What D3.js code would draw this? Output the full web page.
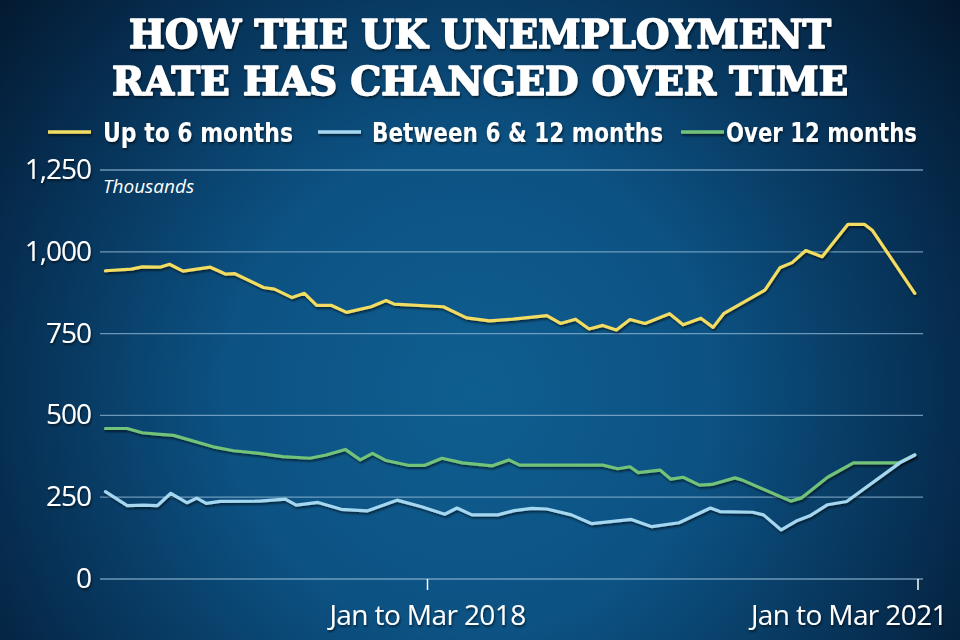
<!DOCTYPE html>
<html>
<head>
<meta charset="utf-8">
<script src="https://cdn.jsdelivr.net/npm/d3@7"></script>
<style>
  html, body { margin: 0; padding: 0; background: #062038; }
  svg { display: block; }
</style>
</head>
<body>
<svg id="chart" width="960" height="640"></svg>
<script>
// ---------------- DATA ----------------
// x = months since "Jan to Mar 2016" (rolling quarter), y = thousands
const titleLines = ["HOW THE UK UNEMPLOYMENT", "RATE HAS CHANGED OVER TIME"];
const seriesNames = ["Up to 6 months", "Between 6 & 12 months", "Over 12 months"];
const yTicks = [0, 250, 500, 750, 1000, 1250];
const yTickLabels = ["0", "250", "500", "750", "1,000", "1,250"];
const xTicks = [24, 60];
const xTickLabels = ["Jan to Mar 2018", "Jan to Mar 2021"];
const unitLabel = "Thousands";

const upTo6Months = [
  [0.4, 942], [2.3, 947], [3.1, 954], [4.4, 953], [5.1, 962], [6.1, 941], [8.1, 953],
  [9.2, 932], [9.9, 933], [12.0, 891], [12.8, 886], [14.1, 860], [15.0, 873], [15.9, 836],
  [17.0, 836], [18.1, 815], [19.9, 832], [21.0, 851], [21.6, 840], [25.2, 832], [26.9, 798],
  [28.6, 789], [30.3, 794], [32.8, 805], [33.8, 781], [34.9, 794], [35.9, 764], [36.9, 775],
  [37.9, 761], [38.9, 793], [40.0, 781], [41.8, 811], [42.8, 777], [44.1, 797], [45.0, 769],
  [45.8, 812], [48.8, 883], [49.9, 951], [50.8, 967], [51.8, 1004], [53.0, 985], [54.9, 1084],
  [56.1, 1084], [56.7, 1065], [59.8, 873]
];
const between6And12Months = [
  [0.4, 267], [2.0, 224], [3.2, 226], [4.2, 224], [5.2, 262], [6.4, 233], [7.1, 247],
  [7.8, 231], [8.8, 237], [11.7, 238], [13.6, 244], [14.4, 226], [16.0, 234], [17.7, 213],
  [19.6, 208], [21.8, 241], [23.6, 221], [25.3, 198], [26.2, 217], [27.3, 196], [29.2, 196],
  [30.4, 209], [31.7, 216], [32.8, 214], [34.6, 196], [36.1, 169], [39.0, 182], [40.5, 160],
  [42.5, 172], [44.8, 217], [45.5, 206], [47.9, 204], [48.7, 196], [50.0, 150], [51.1, 177],
  [52.1, 193], [53.4, 227], [54.8, 237], [58.7, 355], [59.8, 379]
];
const over12Months = [
  [0.4, 460], [2.0, 460], [3.1, 447], [4.2, 443], [5.4, 439], [8.3, 404], [9.8, 392],
  [11.7, 384], [13.4, 374], [15.4, 369], [16.6, 379], [18.0, 396], [19.1, 364], [20.0, 384],
  [21.0, 362], [22.7, 347], [23.8, 347], [25.1, 369], [26.6, 355], [28.8, 346], [30.0, 364],
  [30.8, 348], [33.0, 348], [36.9, 348], [38.0, 337], [38.9, 343], [39.5, 325], [41.1, 333],
  [41.9, 305], [42.8, 311], [44.0, 287], [44.9, 289], [46.6, 309], [47.1, 303], [50.7, 238],
  [51.5, 248], [53.4, 311], [55.3, 355], [58.6, 355], [59.8, 379]
];
const seriesColors = ["#f3dc62", "#a5d8f0", "#72c279"];

// ---------------- DRAW ----------------
const svg = d3.select("#chart");
const W = 960, H = 640;
const defs = svg.append("defs");

const bg = defs.append("radialGradient").attr("id", "bg")
  .attr("gradientUnits", "userSpaceOnUse")
  .attr("cx", 470).attr("cy", 390).attr("r", 640);
bg.append("stop").attr("offset", "0").attr("stop-color", "#0f5e90");
bg.append("stop").attr("offset", "0.38").attr("stop-color", "#0c5283");
bg.append("stop").attr("offset", "0.75").attr("stop-color", "#062d50");
bg.append("stop").attr("offset", "1").attr("stop-color", "#031529");

const sh = defs.append("filter").attr("id", "shadow")
  .attr("filterUnits", "userSpaceOnUse")
  .attr("x", -2000).attr("y", -2000).attr("width", 5000).attr("height", 5000);
sh.append("feDropShadow").attr("dx", 1).attr("dy", 2).attr("stdDeviation", 1.3)
  .attr("flood-color", "#000").attr("flood-opacity", 0.55);

svg.append("rect").attr("width", W).attr("height", H).attr("fill", "url(#bg)");

// Title
const titleBaselines = [48, 95];
const titleWidths = [702, 736];
svg.selectAll("text.title").data(titleLines).join("text")
  .attr("class", "title")
  .attr("x", W / 2).attr("y", (d, i) => titleBaselines[i])
  .attr("text-anchor", "middle")
  .attr("textLength", (d, i) => titleWidths[i])
  .attr("lengthAdjust", "spacingAndGlyphs")
  .attr("font-family", "'DejaVu Serif Condensed', 'DejaVu Serif', serif")
  .attr("font-weight", "bold")
  .attr("font-size", 40)
  .attr("fill", "#fff").attr("stroke", "#fff").attr("stroke-width", 1.6)
  .attr("stroke-linejoin", "round")
  .attr("filter", "url(#shadow)")
  .text(d => d);

// Legend
const legendItems = [
  { sx: 48, tx: 103, tw: 190 },
  { sx: 318, tx: 372, tw: 291 },
  { sx: 681, tx: 726, tw: 191 }
];
const lg = svg.append("g");
legendItems.forEach((it, i) => {
  lg.append("line").attr("x1", it.sx).attr("x2", it.sx + 43)
    .attr("y1", 132).attr("y2", 132)
    .attr("stroke", seriesColors[i]).attr("stroke-width", 3.5)
    .attr("filter", "url(#shadow)");
  lg.append("text").attr("x", it.tx).attr("y", 142)
    .attr("textLength", it.tw).attr("lengthAdjust", "spacingAndGlyphs")
    .attr("font-family", "'Liberation Sans Narrow', 'DejaVu Sans Condensed', 'Roboto', sans-serif")
    .attr("font-weight", "bold").attr("font-size", 27)
    .attr("fill", "#fff").attr("filter", "url(#shadow)")
    .text(seriesNames[i]);
});

// Scales
const x = d3.scaleLinear().domain([0, 60]).range([100, 917.5]);
const y = d3.scaleLinear().domain([0, 1250]).range([579, 170]);

// Gridlines
svg.append("g").selectAll("line").data(yTicks).join("line")
  .attr("x1", 100).attr("x2", 923)
  .attr("y1", d => y(d)).attr("y2", d => y(d))
  .attr("stroke", "#8fb6d3").attr("stroke-opacity", 0.75).attr("stroke-width", 1.3);

// Y labels
const yAxis = d3.axisLeft(y).tickValues(yTicks)
  .tickFormat((d, i) => yTickLabels[i]).tickSize(0).tickPadding(0);
const yg = svg.append("g").attr("transform", "translate(91,0)").call(yAxis);
yg.select(".domain").remove();
yg.selectAll("text")
  .attr("font-family", "'Open Sans', 'Noto Sans', sans-serif")
  .attr("font-size", 28).attr("fill", "#fff")
  .attr("dy", "0.3em").attr("letter-spacing", -1)
  .attr("filter", "url(#shadow)");

// Units
svg.append("text").attr("x", 103).attr("y", 193)
  .attr("font-family", "'Open Sans', 'Noto Sans', sans-serif")
  .attr("font-style", "italic").attr("font-size", 19).attr("fill", "#fff")
  .text(unitLabel);

// X axis
const xAxis = d3.axisBottom(x).tickValues(xTicks)
  .tickFormat((d, i) => xTickLabels[i]).tickSize(11).tickPadding(10);
const xg = svg.append("g").attr("transform", "translate(0,579)").call(xAxis);
xg.select(".domain").remove();
xg.selectAll(".tick line").attr("stroke", "#fff").attr("stroke-width", 1.5);
xg.selectAll("text")
  .attr("font-family", "'Open Sans', 'Noto Sans', sans-serif")
  .attr("font-size", 28).attr("fill", "#fff").attr("letter-spacing", -0.6)
  .attr("dy", "0.9em")
  .attr("filter", "url(#shadow)");
xg.selectAll(".tick").filter((d, i) => i === xTicks.length - 1)
  .select("text").attr("text-anchor", "end").attr("x", 29);

// Lines
const line = d3.line().x(d => x(d[0])).y(d => y(d[1]));
const allSeries = [over12Months, between6And12Months, upTo6Months];
const allColors = [seriesColors[2], seriesColors[1], seriesColors[0]];
svg.append("g").selectAll("path").data(allSeries).join("path")
  .attr("d", line)
  .attr("fill", "none")
  .attr("stroke", (d, i) => allColors[i])
  .attr("stroke-width", 3.2)
  .attr("stroke-linejoin", "round")
  .attr("stroke-linecap", "round")
  .attr("filter", "url(#shadow)");
</script>
</body>
</html>
